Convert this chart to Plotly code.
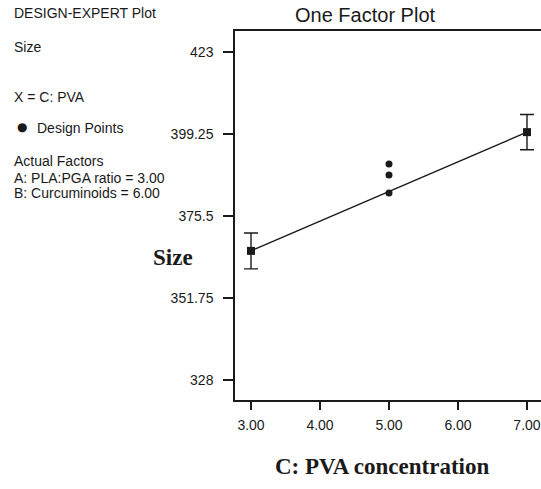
import plotly.graph_objects as go

# Design points measured at C: PVA = 5.00
design_x = [5.0, 5.0, 5.0]
design_size = [390.6, 387.4, 382.2]

# Predicted response at the factor ends, with LSD half-widths
pred_x = [3.0, 7.0]
pred_size = [365.4, 399.8]
pred_lsd = [5.2, 5.1]

x_ticks = [3.0, 4.0, 5.0, 6.0, 7.0]
y_ticks = [328, 351.75, 375.5, 399.25, 423]

legend_lines = [
    ("DESIGN-EXPERT Plot", 13),
    ("Size", 47),
    ("X = C: PVA", 97),
    ("Actual Factors", 161),
    ("A: PLA:PGA ratio = 3.00", 178),
    ("B: Curcuminoids = 6.00", 193),
]

W, H = 541, 489
L, R, T, B = 235, 0, 31, 89
PW, PH = W - L - R, H - T - B


def px(x):
    return (x - L) / PW


def py(y):
    return (H - B - y) / PH


ink = "#1a1a1a"
fig = go.Figure()

fig.add_trace(go.Scatter(
    x=pred_x, y=pred_size, mode="lines+markers",
    line=dict(color=ink, width=1.4),
    marker=dict(symbol="square", size=8, color=ink),
    error_y=dict(type="data", array=pred_lsd, color=ink, thickness=1.4, width=7),
    showlegend=False, hoverinfo="skip",
))
fig.add_trace(go.Scatter(
    x=design_x, y=design_size, mode="markers",
    marker=dict(symbol="circle", size=7, color=ink),
    showlegend=False,
))

axis_font = dict(family="Arial, Liberation Sans, sans-serif", size=14, color=ink)
fig.update_xaxes(
    range=[2.768, 7.203], tickvals=x_ticks, ticktext=[f"{v:.2f}" for v in x_ticks],
    showgrid=False, zeroline=False, showline=True, linecolor=ink, linewidth=1.5,
    mirror=True, ticks="outside", ticklen=8, tickwidth=1.5, tickcolor=ink,
    tickfont=axis_font, ticklabelstandoff=3,
)
fig.update_yaxes(
    range=[322.2, 429.1], tickvals=y_ticks, ticktext=[f"{v:g}" for v in y_ticks],
    showgrid=False, zeroline=False, showline=True, linecolor=ink, linewidth=1.5,
    ticks="outside", ticklen=10, tickwidth=1.5, tickcolor=ink,
    tickfont=axis_font, ticklabelstandoff=7,
)

ann = []
side_font = dict(family="Arial, Liberation Sans, sans-serif", size=14, color=ink)
for text, y in legend_lines:
    ann.append(dict(text=text, x=px(12), y=py(y), xref="paper", yref="paper",
                    xanchor="left", yanchor="middle", showarrow=False, font=side_font))
ann.append(dict(text="\u25CF", x=px(22), y=py(127), xref="paper", yref="paper",
                xanchor="center", yanchor="middle", showarrow=False,
                font=dict(family="DejaVu Sans", size=12, color=ink)))
ann.append(dict(text="Design Points", x=px(35), y=py(128), xref="paper", yref="paper",
                xanchor="left", yanchor="middle", showarrow=False, font=side_font))
ann.append(dict(text="One Factor Plot", x=px(365), y=py(15), xref="paper", yref="paper",
                xanchor="center", yanchor="middle", showarrow=False,
                font=dict(family="Arial, Liberation Sans, sans-serif", size=20, color=ink)))
serif_bold = dict(family="Liberation Serif, Times New Roman, serif", size=23, color=ink)
ann.append(dict(text="<b>Size</b>", x=px(173), y=py(257), xref="paper", yref="paper",
                xanchor="center", yanchor="middle", showarrow=False, font=serif_bold))
ann.append(dict(text="<b>C: PVA concentration</b>", x=px(382), y=py(466), xref="paper",
                yref="paper", xanchor="center", yanchor="middle", showarrow=False,
                font=serif_bold))

fig.update_layout(
    width=W, height=H, margin=dict(l=L, r=R, t=T, b=B, autoexpand=False),
    paper_bgcolor="white", plot_bgcolor="white", annotations=ann,
)

fig.write_html("out.html")
